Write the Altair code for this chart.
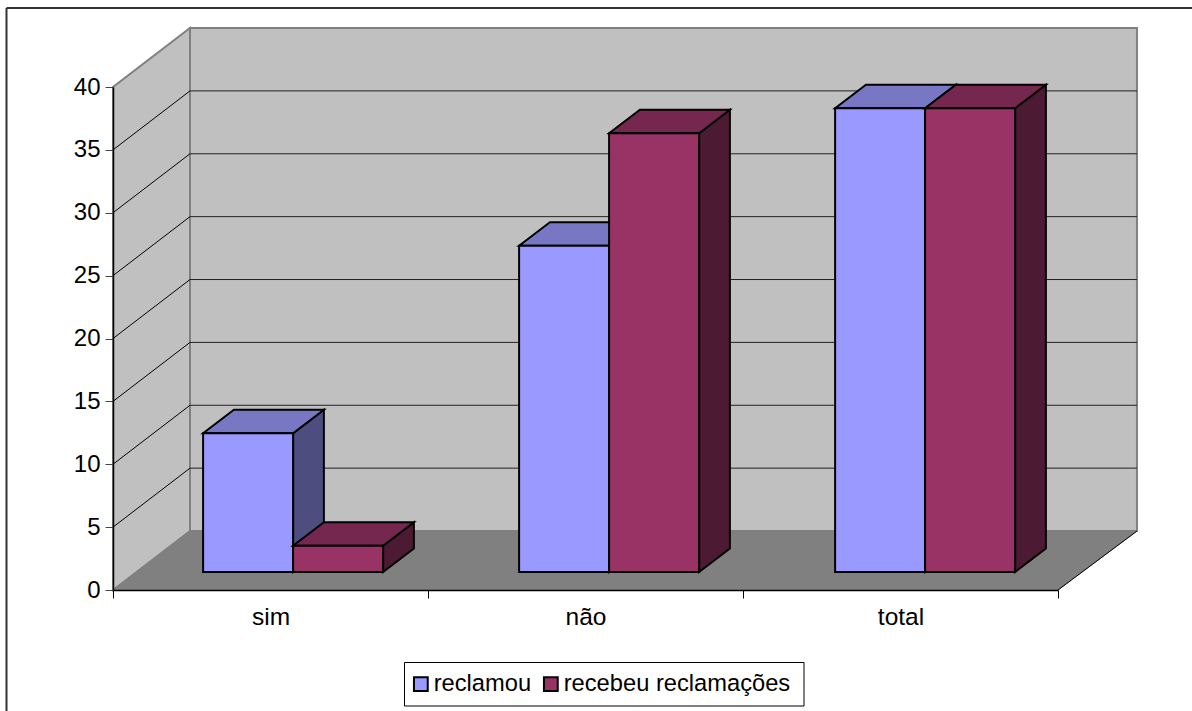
import altair as alt
import pandas as pd

# Chart values
categories = ["sim", "não", "total"]
series_names = ["reclamou", "recebeu reclamações"]
reclamou = [11, 26, 37]
recebeu = [2, 35, 37]
y_ticks = [0, 5, 10, 15, 20, 25, 30, 35, 40]

# Colours: front, top and side of each series
front = {"reclamou": "#9999FF", "recebeu reclamações": "#993366"}
top = {"reclamou": "#7777C4", "recebeu reclamações": "#752750"}
side = {"reclamou": "#4D4D80", "recebeu reclamações": "#4D1A33"}

# Oblique projection: how far the depth axis moves along x (categories) and y (value)
DEPTH_X = 0.2444
DEPTH_Y = 4.69
WALL_WIDTH = 3.0063
BAR_WIDTH = 0.2857
BAR_GAP = 0.2127
BAR_STEP = 1.0032
BAR_FLOOR = 1.43
BAR_LIFT = 0.1
BAR_VALUE_SCALE = 0.994
DEPTH_START = 0.3
DEPTH_SPAN = 0.4

FONT = "Liberation Sans"
x_q = alt.Scale(domain=[0, 3], nice=False)
y_q = alt.Scale(domain=[0, 40], nice=False)
y_axis = alt.Axis(
    title=None, values=y_ticks, labelFont=FONT, labelFontSize=24, labelColor="#000000",
    labelPadding=5, tickSize=8, tickColor="#444444", tickWidth=1,
    domainColor="#000000", domainWidth=1.5, grid=False, zindex=1,
)


def X(field="x"):
    return alt.X(f"{field}:Q", scale=x_q, axis=None)


def Y(field="y"):
    return alt.Y(f"{field}:Q", scale=y_q, axis=y_axis)


def vertical_face(x0, x1, low0, low1, high0, high1, fill, stroke, width):
    """Face with vertical left/right edges, spanned along x."""
    df = pd.DataFrame({"x": [x0, x1], "y": [low0, low1], "y2": [high0, high1]})
    return alt.Chart(df).mark_area(
        fill=fill, stroke=stroke, strokeWidth=width, strokeJoin="miter", line=False
    ).encode(x=X(), y=Y(), y2="y2:Q")


def horizontal_face(y0, y1, left0, left1, right0, right1, fill, stroke, width):
    """Face with horizontal top/bottom edges, spanned along y."""
    df = pd.DataFrame({"y": [y0, y1], "x": [left0, left1], "x2": [right0, right1]})
    return alt.Chart(df).mark_area(
        orient="horizontal", fill=fill, stroke=stroke, strokeWidth=width,
        strokeJoin="miter", line=False
    ).encode(y=Y(), x=X(), x2="x2:Q")


def segments(df, color, width):
    return alt.Chart(df).mark_rule(color=color, strokeWidth=width).encode(
        x=X("x"), x2="x2:Q", y=Y("y"), y2="y2:Q"
    )


layers = []
one_row = pd.DataFrame({"a": [0]})

# Outer frame of the chart area (open on the right and at the bottom)
layers.append(alt.Chart(one_row).mark_rule(color="#333333", strokeWidth=2).encode(
    x=alt.value(-106.5), y=alt.value(-79), y2=alt.value(624)))
layers.append(alt.Chart(one_row).mark_rule(color="#333333", strokeWidth=2).encode(
    x=alt.value(-106.5), x2=alt.value(1079), y=alt.value(-79)))

# Legend box
layers.append(alt.Chart(one_row).mark_rect(fill="#FFFFFF", stroke="#000000", strokeWidth=1).encode(
    x=alt.value(291.5), x2=alt.value(691), y=alt.value(575.5), y2=alt.value(619)))

# Walls and floor
layers.append(vertical_face(0, DEPTH_X, 0, DEPTH_Y, 40, 40 + DEPTH_Y, "#C0C0C0", "#808080", 2))
layers.append(horizontal_face(DEPTH_Y, 40 + DEPTH_Y, DEPTH_X, DEPTH_X,
                              WALL_WIDTH + DEPTH_X, WALL_WIDTH + DEPTH_X,
                              "#C0C0C0", "#808080", 2))
layers.append(horizontal_face(0, DEPTH_Y, 0, DEPTH_X, 3, WALL_WIDTH + DEPTH_X, "#808080", "#808080", 1))

# Gridlines run across the side wall and the back wall
grid_values = [v for v in y_ticks if 0 < v < 40]
side_grid = pd.DataFrame({
    "x": [0.0] * len(grid_values), "x2": [DEPTH_X] * len(grid_values),
    "y": grid_values, "y2": [v + DEPTH_Y for v in grid_values],
})
back_grid = pd.DataFrame({
    "x": [DEPTH_X] * len(grid_values), "x2": [WALL_WIDTH + DEPTH_X] * len(grid_values),
    "y": [v + DEPTH_Y for v in grid_values], "y2": [v + DEPTH_Y for v in grid_values],
})
layers.append(segments(side_grid, "#000000", 1))
layers.append(segments(back_grid, "#222222", 1))
layers.append(segments(pd.DataFrame({"x": [3.0], "x2": [WALL_WIDTH + DEPTH_X], "y": [0.0], "y2": [DEPTH_Y]}),
                       "#000000", 1))

# Bars, left to right so that nearer faces overlap correctly
x_base = DEPTH_START * DEPTH_X
bar_dx = DEPTH_SPAN * DEPTH_X
bar_dy = DEPTH_SPAN * DEPTH_Y
for i, _ in enumerate(categories):
    for j, (name, values) in enumerate(zip(series_names, [reclamou, recebeu])):
        left = i * BAR_STEP + BAR_GAP + j * BAR_WIDTH + x_base
        right = left + BAR_WIDTH
        y0 = BAR_FLOOR
        y1 = BAR_FLOOR + BAR_LIFT + values[i] * BAR_VALUE_SCALE
        layers.append(vertical_face(right, right + bar_dx, y0, y0 + bar_dy, y1, y1 + bar_dy,
                                    side[name], "#000000", 2))
        layers.append(horizontal_face(y1, y1 + bar_dy, left, left + bar_dx, right, right + bar_dx,
                                      top[name], "#000000", 2))
        df = pd.DataFrame({"x": [left], "x2": [right], "y": [y0], "y2": [y1],
                           "serie": [name], "categoria": [categories[i]]})
        layers.append(alt.Chart(df).mark_rect(stroke="#000000", strokeWidth=2).encode(
            x=X(), x2="x2:Q", y=Y(), y2="y2:Q",
            color=alt.Color(
                "serie:N",
                scale=alt.Scale(domain=series_names, range=[front[n] for n in series_names]),
                legend=alt.Legend(
                    title=None, orient="none", direction="horizontal",
                    legendX=287, legendY=576, padding=9,
                    symbolType="square", symbolSize=190, symbolStrokeColor="#000000",
                    symbolStrokeWidth=2, symbolOpacity=1,
                    labelFont=FONT, labelFontSize=23.7, labelColor="#000000", labelOffset=1,
                    columnPadding=7, labelLimit=400,
                ),
            ),
        ))

# Category axis: the band scale puts its ticks between the categories
axes_layer = alt.Chart(pd.DataFrame({"categoria": categories, "v": [0, 0, 0]})).mark_point(opacity=0).encode(
    x=alt.X(
        "categoria:N",
        scale=alt.Scale(type="band", domain=categories, paddingInner=0, paddingOuter=0),
        axis=alt.Axis(
            title=None, labelAngle=0, labelFont=FONT, labelFontSize=24.5, labelColor="#000000",
            labelPadding=7, tickBand="extent", tickSize=8, tickColor="#000000", tickWidth=1,
            domainColor="#000000", domainWidth=1.5, grid=False, zindex=1,
        ),
    ),
    y=Y("v"),
)
layers.append(axes_layer)

chart = alt.layer(*layers).resolve_scale(x="independent").properties(
    width=945,
    height=503,
    padding={"left": 113, "top": 87, "right": 134, "bottom": 121},
    autosize=alt.AutoSizeParams(type="none"),
    background="#FFFFFF",
).configure_view(stroke=None)

chart.save("out.html", embed_options={"renderer": "svg", "actions": False})
